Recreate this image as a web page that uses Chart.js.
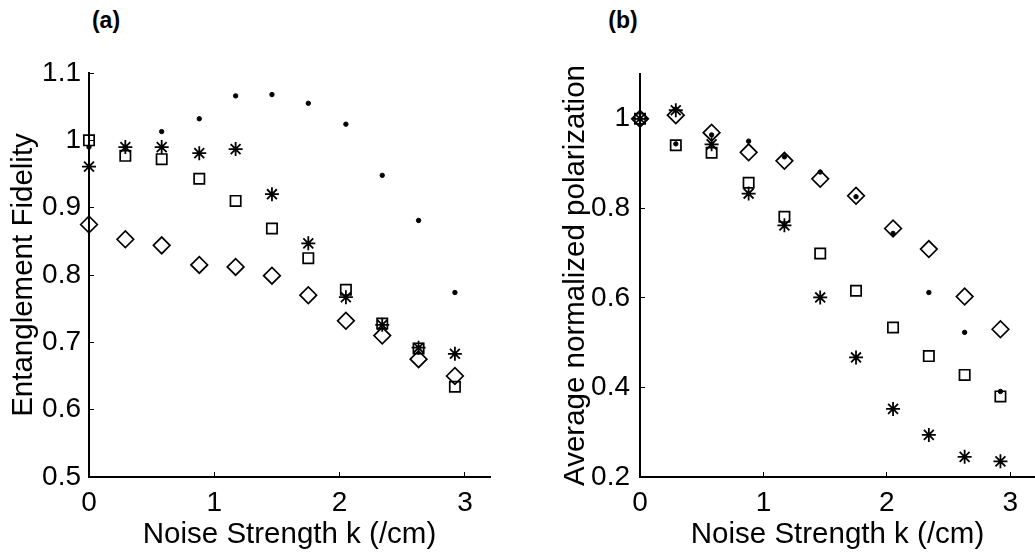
<!DOCTYPE html>
<html>
<head>
<meta charset="utf-8">
<script src="https://cdn.jsdelivr.net/npm/chart.js@4.4.0/dist/chart.umd.min.js"></script>
<style>
  html, body { margin: 0; padding: 0; background: #fff; overflow: hidden; width: 1035px; height: 554px; }
  .panel { position: absolute; top: 0; }
  .lbl { position: absolute; font: bold 23px "Liberation Sans", Arial, sans-serif; color: #000; transform: translate(-50%, -50%); }
</style>
</head>
<body>
<div class="lbl" style="left:106px; top:20px;">(a)</div>
<div class="lbl" style="left:623px; top:20px;">(b)</div>
<canvas id="c1" class="panel" style="left:0px" width="520" height="554"></canvas>
<canvas id="c2" class="panel" style="left:520px" width="525" height="554"></canvas>
<script>
// ---- data ----
const k = [0, 0.29, 0.58, 0.88, 1.17, 1.46, 1.75, 2.05, 2.34, 2.63, 2.92];

// panel (a): Entanglement Fidelity
const fidDot     = [0.990, 0.990, 1.013, 1.032, 1.066, 1.068, 1.055, 1.024, 0.948, 0.881, 0.774];
const fidSquare  = [1.000, 0.977, 0.972, 0.943, 0.910, 0.869, 0.825, 0.778, 0.728, 0.691, 0.634];
const fidStar    = [0.961, 0.990, 0.990, 0.981, 0.987, 0.920, 0.847, 0.767, 0.726, 0.692, 0.683];
const fidDiamond = [0.875, 0.853, 0.844, 0.815, 0.812, 0.799, 0.770, 0.732, 0.710, 0.675, 0.650];

// panel (b): Average normalized polarization
const polDot     = [1.000, 0.944, 0.964, 0.950, 0.915, 0.881, 0.826, 0.744, 0.612, 0.523, 0.391];
const polSquare  = [1.000, 0.941, 0.924, 0.857, 0.781, 0.699, 0.616, 0.534, 0.470, 0.428, 0.380];
const polStar    = [1.000, 1.019, 0.943, 0.833, 0.762, 0.601, 0.467, 0.352, 0.294, 0.245, 0.235];
const polDiamond = [1.000, 1.008, 0.969, 0.925, 0.906, 0.866, 0.828, 0.755, 0.709, 0.603, 0.530];

// ticks
const xTicks  = [0, 1, 2, 3];
const yTicksA = [0.5, 0.6, 0.7, 0.8, 0.9, 1.0, 1.1];
const yTicksB = [0.2, 0.4, 0.6, 0.8, 1.0];

const xTitle = 'Noise Strength k (/cm)';
const yTitleA = 'Entanglement Fidelity';
const yTitleB = 'Average normalized polarization';

// ---- styling ----
const FONT = '"Liberation Sans", Arial, Helvetica, sans-serif';
const styles = {
  dot:     { pointStyle: 'circle',  pointRadius: 2.2, backgroundColor: '#000', borderColor: '#000', borderWidth: 1 },
  square:  { pointStyle: 'rect',    pointRadius: 7.3, backgroundColor: 'rgba(0,0,0,0)', borderColor: '#000', borderWidth: 1.7 },
  star:    { pointStyle: 'star',    pointRadius: 7,   backgroundColor: 'rgba(0,0,0,0)', borderColor: '#000', borderWidth: 1.8 },
  diamond: { pointStyle: 'rectRot', pointRadius: 8.3, backgroundColor: 'rgba(0,0,0,0)', borderColor: '#000', borderWidth: 1.7 }
};

function ds(label, ys, st) {
  const s = styles[st];
  return {
    label: label,
    data: k.map((x, i) => ({ x: x, y: ys[i] })),
    showLine: false,
    clip: false,
    pointStyle: s.pointStyle,
    pointRadius: s.pointRadius,
    pointHoverRadius: s.pointRadius,
    pointBackgroundColor: s.backgroundColor,
    pointBorderColor: s.borderColor,
    pointBorderWidth: s.borderWidth
  };
}

function fmt(v) { return String(Number(v.toFixed(1))); }

function makeChart(id, datasets, yMin, yMax, yTicks, yTitle, yAxisWidth, padTop, padRight, yTitlePad, yTickPad) {
  return new Chart(document.getElementById(id), {
    type: 'scatter',
    data: { datasets: datasets },
    options: {
      responsive: false,
      animation: false,
      devicePixelRatio: 1,
      layout: { padding: { left: 0, top: padTop, right: padRight, bottom: 0 } },
      plugins: { legend: { display: false }, tooltip: { enabled: false } },
      scales: {
        x: {
          type: 'linear',
          min: 0, max: 3.2,
          afterBuildTicks: s => { s.ticks = xTicks.map(v => ({ value: v })); },
          afterFit: s => { s.height = 77; },
          border: { display: true, color: '#000', width: 2 },
          grid: { display: true, drawOnChartArea: false, drawTicks: true, tickLength: -5, color: '#000', lineWidth: 1 },
          ticks: { color: '#000', font: { family: FONT, size: 28 }, padding: 14, maxRotation: 0, callback: v => fmt(v) },
          title: { display: true, text: xTitle, color: '#000', font: { family: FONT, size: 29.5 }, padding: { top: 0, bottom: 1 } }
        },
        y: {
          type: 'linear',
          min: yMin, max: yMax,
          afterBuildTicks: s => { s.ticks = yTicks.map(v => ({ value: v })); },
          afterFit: s => { s.width = yAxisWidth; },
          border: { display: true, color: '#000', width: 2 },
          grid: { display: true, drawOnChartArea: false, drawTicks: true, tickLength: -5, color: '#000', lineWidth: 1 },
          ticks: { color: '#000', font: { family: FONT, size: 28 }, padding: yTickPad, callback: v => fmt(v) },
          title: { display: true, text: yTitle, color: '#000', font: { family: FONT, size: 29.5 }, padding: { top: yTitlePad, bottom: 0 } }
        }
      }
    }
  });
}

makeChart('c1', [
  ds('Dots', fidDot, 'dot'),
  ds('Squares', fidSquare, 'square'),
  ds('Asterisks', fidStar, 'star'),
  ds('Diamonds', fidDiamond, 'diamond')
], 0.5, 1.1, yTicksA, yTitleA, 89, 73, 30, 6, 13);

makeChart('c2', [
  ds('Dots', polDot, 'dot'),
  ds('Squares', polSquare, 'square'),
  ds('Asterisks', polStar, 'star'),
  ds('Diamonds', polDiamond, 'diamond')
], 0.2, 1.1, yTicksB, yTitleB, 120, 74, 6, 38, 15);
</script>
</body>
</html>
